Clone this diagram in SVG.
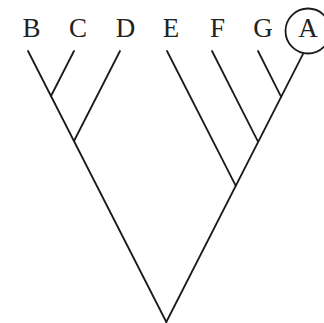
<svg xmlns="http://www.w3.org/2000/svg" width="324" height="323" viewBox="0 0 324 323">
<style>
.lbl{font-family:"Liberation Serif","DejaVu Serif",serif;font-size:27px;fill:#222;text-anchor:middle}
.br{stroke:#1a1a1a;stroke-width:1.8;fill:none;stroke-linecap:round}
</style>
<rect width="324" height="323" fill="#fff"/>
<g id="connectors">
<line class="br" x1="28" y1="51" x2="166.3" y2="322"/>
<line class="br" x1="74" y1="51" x2="51" y2="96"/>
<line class="br" x1="120" y1="51" x2="74" y2="141"/>
<line class="br" x1="167" y1="51" x2="235.8" y2="185.8"/>
<line class="br" x1="212" y1="51" x2="258" y2="141.7"/>
<line class="br" x1="258" y1="51" x2="281" y2="96.6"/>
<line class="br" x1="303.2" y1="53.6" x2="166.3" y2="322"/>
</g>
<g id="B"><text class="lbl" x="31.5" y="36.5">B</text></g>
<g id="C"><text class="lbl" x="78" y="36.5">C</text></g>
<g id="D"><text class="lbl" x="125.5" y="36.5">D</text></g>
<g id="E"><text class="lbl" x="171" y="36.5">E</text></g>
<g id="F"><text class="lbl" x="217.5" y="36.5">F</text></g>
<g id="G"><text class="lbl" x="263" y="36.5">G</text></g>
<g id="A"><circle cx="308" cy="31" r="22.5" fill="none" stroke="#1a1a1a" stroke-width="1.8"/><text class="lbl" x="308" y="36.5">A</text></g>
</svg>
